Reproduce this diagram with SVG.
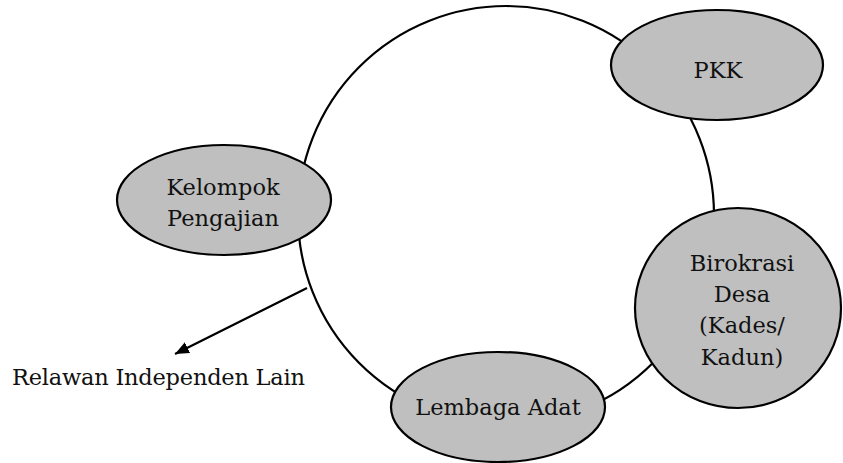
<svg xmlns="http://www.w3.org/2000/svg" width="843" height="463" viewBox="0 0 843 463">
<style>
.node{fill:#bfbfbf;stroke:#000;stroke-width:2.2}
.ring{fill:none;stroke:#000;stroke-width:2.2}
.conn{stroke:#000;stroke-width:2.2;fill:none}
text{font-family:"DejaVu Serif","Liberation Serif",serif;font-size:22.5px;fill:#111;text-anchor:middle}
</style>
<defs>
<marker id="ah" markerUnits="userSpaceOnUse" markerWidth="16" markerHeight="14" refX="14" refY="6" orient="auto">
<path d="M0,0 L14,6 L0,12 Z" fill="#000"/>
</marker>
</defs>
<g id="ring"><ellipse class="ring" cx="506" cy="215" rx="208" ry="209"/></g>
<g id="connectors">
<line class="conn" x1="307" y1="288" x2="175" y2="354" marker-end="url(#ah)"/>
</g>
<g id="pkk"><ellipse class="node" cx="717" cy="65" rx="106" ry="55"/><text x="718" y="78">PKK</text></g>
<g id="kelompok"><ellipse class="node" cx="224" cy="200" rx="107" ry="55"/><text x="223" y="195">Kelompok</text><text x="223" y="226">Pengajian</text></g>
<g id="birokrasi"><ellipse class="node" cx="738" cy="308" rx="103" ry="100"/><text x="742" y="271">Birokrasi</text><text x="742" y="302">Desa</text><text x="742" y="333">(Kades/</text><text x="742" y="365">Kadun)</text></g>
<g id="lembaga"><ellipse class="node" cx="498" cy="407" rx="107" ry="55"/><text x="498" y="415">Lembaga Adat</text></g>
<g id="relawan"><text x="12" y="385" style="text-anchor:start" textLength="293">Relawan Independen Lain</text></g>
</svg>
